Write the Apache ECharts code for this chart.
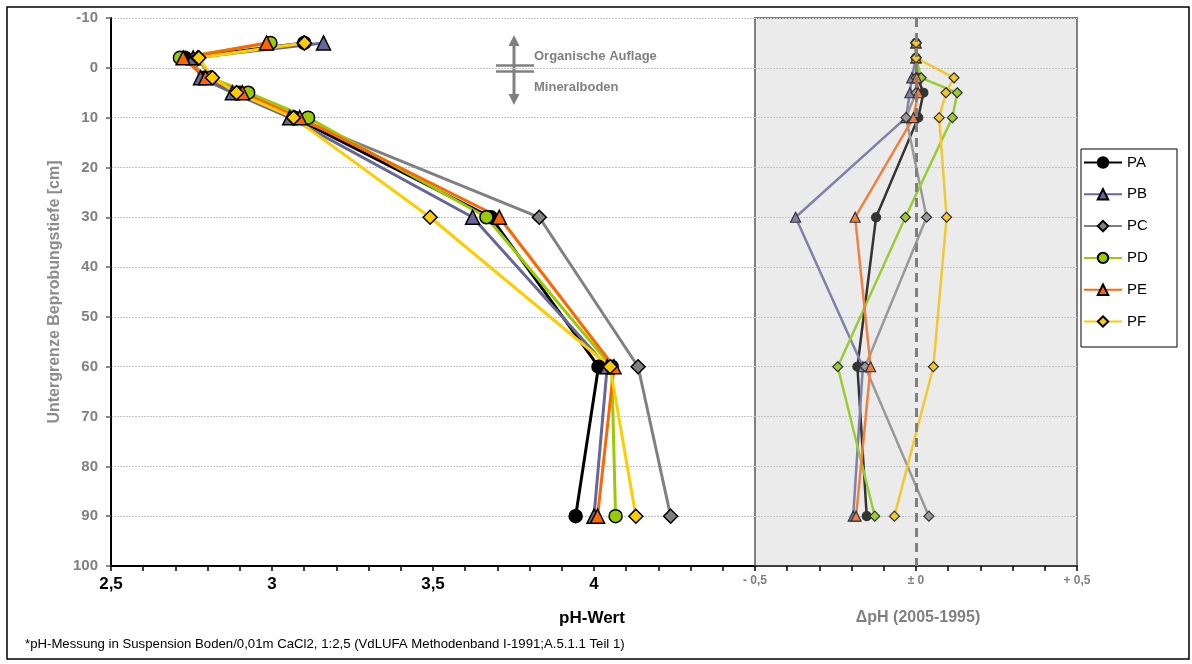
<!DOCTYPE html>
<html><head><meta charset="utf-8">
<script src="https://cdn.jsdelivr.net/npm/echarts@6/dist/echarts.min.js"></script>
<style>html,body{margin:0;padding:0;background:#fff}#c{width:1192px;height:664px}</style>
</head><body><div id="c"></div><script>
// ---- data ----
const depths = [-5, -2, 2, 5, 10, 30, 60, 90];
const names = ['PA', 'PB', 'PC', 'PD', 'PE', 'PF'];
const phPA = [3.10, 2.73, 2.79, 2.90, 3.07, 3.68, 4.014, 3.943];
const phPB = [3.16, 2.755, 2.778, 2.877, 3.055, 3.623, 4.041, 4.000];
const phPC = [3.10, 2.77, 2.81, 2.89, 3.07, 3.830, 4.137, 4.238];
const phPD = [2.995, 2.714, 2.81, 2.926, 3.112, 3.666, 4.055, 4.067];
const phPE = [2.983, 2.724, 2.794, 2.908, 3.086, 3.706, 4.062, 4.011];
const phPF = [3.101, 2.773, 2.815, 2.890, 3.067, 3.491, 4.050, 4.130];
const dPA = [0, 0, 0.005, 0.023, 0.007, -0.124, -0.182, -0.153];
const dPB = [0, 0, -0.013, -0.019, -0.031, -0.374, -0.165, -0.195];
const dPC = [0, 0, 0.0, 0.0, -0.031, 0.033, -0.158, 0.040];
const dPD = [0, 0, 0.016, 0.128, 0.113, -0.033, -0.243, -0.128];
const dPE = [0, 0, 0.002, 0.007, -0.008, -0.189, -0.141, -0.186];
const dPF = [0, 0, 0.118, 0.093, 0.072, 0.095, 0.054, -0.067];
const phTickValues = [2.5, 3, 3.5, 4];
const phTickLabels = ['2,5', '3', '3,5', '4'];
const dTickValues = [-0.5, 0, 0.5];
const dTickLabels = ['- 0,5', '± 0', '+ 0,5'];
const depthTicks = [-10, 0, 10, 20, 30, 40, 50, 60, 70, 80, 90, 100];

// ---- styles ----
const FONT = 'Arial, "Liberation Sans", sans-serif';
const leftStyle = {
  PA: {color: '#000000', symbol: 'circle', size: 13},
  PB: {color: '#666699', symbol: 'triangle', size: 14},
  PC: {color: '#808080', symbol: 'diamond', size: 14},
  PD: {color: '#99cc00', symbol: 'circle', size: 13},
  PE: {color: '#ff6600', symbol: 'triangle', size: 14},
  PF: {color: '#ffcc00', symbol: 'diamond', size: 14}
};
const rightStyle = {
  PA: {color: '#333333', symbol: 'circle', size: 9},
  PB: {color: '#8080a8', symbol: 'triangle', size: 10},
  PC: {color: '#999999', symbol: 'diamond', size: 10},
  PD: {color: '#99cc33', symbol: 'diamond', size: 10},
  PE: {color: '#f08040', symbol: 'triangle', size: 10},
  PF: {color: '#f2c832', symbol: 'diamond', size: 10}
};
const phData = {PA: phPA, PB: phPB, PC: phPC, PD: phPD, PE: phPE, PF: phPF};
const dData = {PA: dPA, PB: dPB, PC: dPC, PD: dPD, PE: dPE, PF: dPF};

const series = [];
names.forEach(n => {
  const s = leftStyle[n];
  series.push({
    name: n, type: 'line', xAxisIndex: 0, yAxisIndex: 0,
    data: depths.map((d, i) => [phData[n][i], d]),
    symbol: s.symbol, symbolSize: s.size,
    lineStyle: {color: s.color, width: 3},
    itemStyle: {color: s.color, borderColor: '#000', borderWidth: 1.5},
    z: 3
  });
});
series.push({
  type: 'line', xAxisIndex: 1, yAxisIndex: 1, data: [], z: 1, silent: true,
  markLine: {silent: true, symbol: ['none', 'none'], label: {show: false},
    lineStyle: {color: '#808080', type: [9, 6], width: 3},
    data: [{xAxis: 0}]}
});
names.forEach(n => {
  const s = rightStyle[n];
  series.push({
    name: n, type: 'line', xAxisIndex: 1, yAxisIndex: 1,
    data: depths.map((d, i) => [dData[n][i], d]),
    symbol: s.symbol, symbolSize: s.size,
    lineStyle: {color: s.color, width: 2.5},
    itemStyle: {color: s.color, borderColor: '#333', borderWidth: 1.2},
    z: 3
  });
});

const gridLine = {show: true, lineStyle: {color: '#c4c4c4', type: [2, 1], width: 1}};

const option = {
  animation: false,
  backgroundColor: '#fff',
  textStyle: {fontFamily: FONT},
  grid: [
    {left: 111, top: 18, width: 644, height: 548, show: false},
    {left: 755, top: 18, width: 322, height: 548, show: true,
     backgroundColor: '#ebebeb', borderColor: '#808080', borderWidth: 2}
  ],
  xAxis: [
    {type: 'value', gridIndex: 0, min: 2.5, max: 4.5, interval: 0.5,
     axisLine: {show: true, onZero: false, lineStyle: {color: '#000', width: 2}},
     axisTick: {show: true, length: 5, lineStyle: {color: '#000', width: 1.5}},
     minorTick: {show: true, splitNumber: 5, length: 5, lineStyle: {color: '#000', width: 1.5}},
     splitLine: {show: false},
     axisLabel: {margin: 10, fontSize: 17, fontWeight: 'bold', color: '#000', fontFamily: FONT,
       formatter: v => { const i = phTickValues.findIndex(t => Math.abs(t - v) < 1e-9); return i >= 0 ? phTickLabels[i] : ''; }}
    },
    {type: 'value', gridIndex: 1, min: -0.5, max: 0.5, interval: 0.5,
     axisLine: {show: true, onZero: false, lineStyle: {color: '#404040', width: 2}},
     axisTick: {show: true, length: 5, lineStyle: {color: '#000', width: 1.5}},
     minorTick: {show: true, splitNumber: 5, length: 5, lineStyle: {color: '#000', width: 1.5}},
     splitLine: {show: false},
     axisLabel: {margin: 9, fontSize: 12, fontWeight: 'bold', color: '#808080', fontFamily: FONT,
       formatter: v => { const i = dTickValues.findIndex(t => Math.abs(t - v) < 1e-9); return i >= 0 ? dTickLabels[i] : ''; }}
    }
  ],
  yAxis: [
    {type: 'value', gridIndex: 0, inverse: true, min: -10, max: 100, interval: 10,
     axisLine: {show: true, onZero: false, lineStyle: {color: '#000', width: 2}},
     axisTick: {show: true, length: 5, lineStyle: {color: '#606060', width: 1.5}},
     splitLine: gridLine,
     axisLabel: {margin: 13, fontSize: 15, fontWeight: 'bold', color: '#808080', fontFamily: FONT,
       formatter: v => depthTicks.includes(v) ? String(v) : ''}
    },
    {type: 'value', gridIndex: 1, inverse: true, min: -10, max: 100, interval: 10,
     axisLine: {show: false}, axisTick: {show: false}, axisLabel: {show: false},
     splitLine: gridLine}
  ],
  legend: {
    data: names, orient: 'vertical', left: 1083, top: 155, padding: 0,
    itemWidth: 38, itemHeight: 13, itemGap: 16.8,
    textStyle: {fontSize: 15, color: '#000', fontFamily: FONT}
  },
  series: series,
  graphic: [
    {type: 'rect', shape: {x: 7, y: 7, width: 1182, height: 652},
     style: {fill: 'none', stroke: '#000', lineWidth: 1.5}, silent: true, z: -1},
    {type: 'rect', shape: {x: 1081, y: 149, width: 96, height: 198},
     style: {fill: 'none', stroke: '#000', lineWidth: 1}, silent: true},
    // annotation
    {type: 'line', shape: {x1: 514, y1: 42, x2: 514, y2: 98},
     style: {stroke: '#808080', lineWidth: 3}, silent: true},
    {type: 'polygon', shape: {points: [[514, 35], [508.5, 46], [519.5, 46]]},
     style: {fill: '#808080'}, silent: true},
    {type: 'polygon', shape: {points: [[514, 105], [508.5, 94], [519.5, 94]]},
     style: {fill: '#808080'}, silent: true},
    {type: 'line', shape: {x1: 496, y1: 65.5, x2: 534, y2: 65.5},
     style: {stroke: '#808080', lineWidth: 2.5}, silent: true},
    {type: 'line', shape: {x1: 496, y1: 71.5, x2: 534, y2: 71.5},
     style: {stroke: '#808080', lineWidth: 2.5}, silent: true},
    {type: 'text', x: 534, y: 56, silent: true,
     style: {text: 'Organische Auflage', fill: '#808080', font: 'bold 13px ' + FONT, textVerticalAlign: 'middle'}},
    {type: 'text', x: 534, y: 87, silent: true,
     style: {text: 'Mineralboden', fill: '#808080', font: 'bold 13px ' + FONT, textVerticalAlign: 'middle'}},
    // axis titles
    {type: 'text', x: 592, y: 618, silent: true,
     style: {text: 'pH-Wert', fill: '#000', font: 'bold 17px ' + FONT, textAlign: 'center', textVerticalAlign: 'middle'}},
    {type: 'text', x: 918, y: 618, silent: true,
     style: {text: 'ΔpH (2005-1995)', fill: '#808080', font: 'bold 16px ' + FONT, textAlign: 'center', textVerticalAlign: 'middle'}},
    {type: 'text', x: 55, y: 292, rotation: Math.PI / 2, silent: true,
     style: {text: 'Untergrenze Beprobungstiefe [cm]', fill: '#8c8c8c', font: 'bold 16px ' + FONT, textAlign: 'center', textVerticalAlign: 'middle'}},
    {type: 'text', x: 25, y: 644, silent: true,
     style: {text: '*pH-Messung in Suspension Boden/0,01m CaCl2, 1:2,5 (VdLUFA Methodenband I-1991;A.5.1.1 Teil 1)', fill: '#000', font: '13.2px ' + FONT, textVerticalAlign: 'middle'}}
  ]
};
const chart = echarts.init(document.getElementById('c'), null, {renderer: 'canvas'});
chart.setOption(option);
</script></body></html>
